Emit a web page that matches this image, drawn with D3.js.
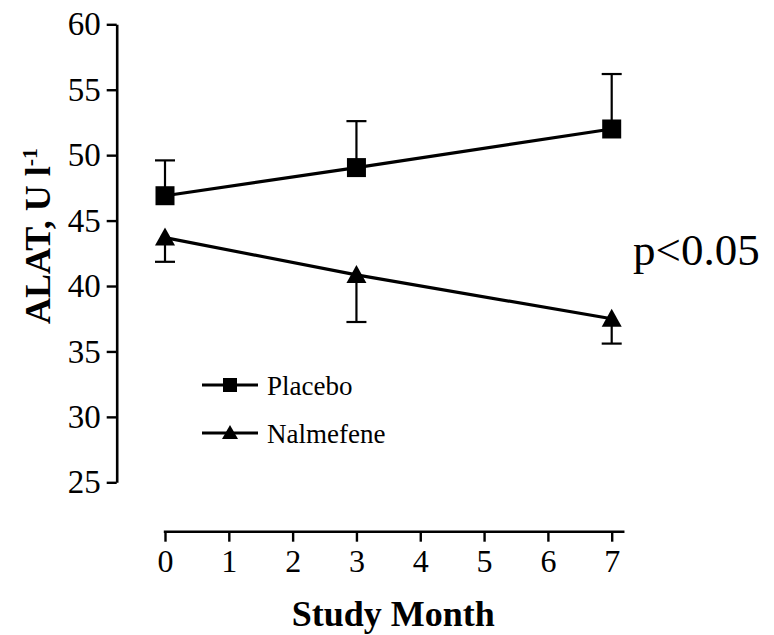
<!DOCTYPE html>
<html>
<head>
<meta charset="utf-8">
<script src="https://cdn.jsdelivr.net/npm/d3@7"></script>
<style>
  html, body { margin: 0; padding: 0; background: #fff; }
  svg { display: block; }
  text { font-family: "Liberation Serif", "Times New Roman", serif; fill: #000; }
</style>
</head>
<body>
<svg id="chart" width="774" height="635"></svg>
<script>
// Study months at which ALAT was measured
const months = [0, 3, 7];

// Placebo group: mean ALAT and upper error (U/l)
const placeboMean = [46.9, 49.05, 52.0];
const placeboErr  = [2.7, 3.55, 4.2];

// Nalmefene group: mean ALAT and lower error (U/l)
const nalmefeneMean = [43.7, 40.85, 37.5];
const nalmefeneErr  = [1.85, 3.6, 1.9];

const yTicks = [25, 30, 35, 40, 45, 50, 55, 60];
const xTicks = [0, 1, 2, 3, 4, 5, 6, 7];
const seriesNames = ["Placebo", "Nalmefene"];

const svg = d3.select("#chart");
svg.append("rect").attr("width", 774).attr("height", 635).attr("fill", "#fff");

const x = d3.scaleLinear().domain([0, 7]).range([165, 611.7]);
const y = d3.scaleLinear().domain([25, 60]).range([482.3, 24.3]);
const yAxisX = 116.7;
const xAxisY = 531.7;

// Y axis
const yAxis = svg.append("g")
  .attr("transform", `translate(${yAxisX},0)`)
  .call(d3.axisLeft(y).tickValues(yTicks).tickFormat(d3.format("d"))
    .tickSize(10).tickSizeOuter(0).tickPadding(6));
yAxis.select(".domain").attr("stroke", "#000").attr("stroke-width", 2.6);
yAxis.selectAll(".tick line").attr("stroke", "#000").attr("stroke-width", 2.4);
yAxis.selectAll(".tick text")
  .attr("font-family", "'Liberation Serif', 'Times New Roman', serif")
  .attr("font-size", 33).attr("fill", "#000");

// X axis (offset below the plot, line runs slightly past the last tick)
const xAxis = svg.append("g")
  .attr("transform", `translate(0,${xAxisY})`)
  .call(d3.axisBottom(x).tickValues(xTicks).tickFormat(d3.format("d"))
    .tickSize(10).tickSizeOuter(0).tickPadding(8));
xAxis.select(".domain").remove();
xAxis.append("line")
  .attr("x1", x(0) - 1.2).attr("x2", x(7.2))
  .attr("stroke", "#000").attr("stroke-width", 2.6);
xAxis.selectAll(".tick line").attr("stroke", "#000").attr("stroke-width", 2.4);
xAxis.selectAll(".tick text")
  .attr("font-family", "'Liberation Serif', 'Times New Roman', serif")
  .attr("font-size", 32).attr("fill", "#000");

// Axis titles
svg.append("text")
  .attr("x", (x(0) + x(7)) / 2 + 5).attr("y", 626)
  .attr("text-anchor", "middle")
  .attr("font-size", 36).attr("font-weight", "bold")
  .text("Study Month");

const yTitle = svg.append("text")
  .attr("transform", "translate(50,236) rotate(-90)")
  .attr("text-anchor", "middle")
  .attr("font-size", 36).attr("font-weight", "bold");
yTitle.append("tspan").text("ALAT, U l");
yTitle.append("tspan").attr("dy", -13).attr("font-size", 22).text("-1");

// Marker shapes
const squarePath = s => `M${-s/2},${-s/2}H${s/2}V${s/2}H${-s/2}Z`;
const trianglePath = (w, up, down) => `M0,${-up}L${w/2},${down}L${-w/2},${down}Z`;

const series = [
  { name: seriesNames[0], mean: placeboMean, err: placeboErr, dir: 1, shape: squarePath(19), legendShape: squarePath(14) },
  { name: seriesNames[1], mean: nalmefeneMean, err: nalmefeneErr, dir: -1, shape: trianglePath(20, 10, 8), legendShape: trianglePath(16, 8, 6) }
];

const line = d3.line().x((d, i) => x(months[i])).y(d => y(d));

series.forEach(s => {
  const g = svg.append("g");
  // one-sided error bars
  months.forEach((m, i) => {
    const yEnd = y(s.mean[i] + s.dir * s.err[i]);
    g.append("line")
      .attr("x1", x(m)).attr("x2", x(m))
      .attr("y1", y(s.mean[i])).attr("y2", yEnd)
      .attr("stroke", "#000").attr("stroke-width", 2.2);
    g.append("line")
      .attr("x1", x(m) - 10).attr("x2", x(m) + 10)
      .attr("y1", yEnd).attr("y2", yEnd)
      .attr("stroke", "#000").attr("stroke-width", 2.2);
  });
  g.append("path")
    .datum(s.mean)
    .attr("d", line)
    .attr("fill", "none").attr("stroke", "#000").attr("stroke-width", 3.2);
  g.selectAll("path.marker")
    .data(s.mean)
    .join("path")
    .attr("class", "marker")
    .attr("transform", (d, i) => `translate(${x(months[i])},${y(d)})`)
    .attr("d", s.shape)
    .attr("fill", "#000");
});

// Legend
const legend = svg.append("g").attr("transform", "translate(202,385)");
series.forEach((s, i) => {
  const row = legend.append("g").attr("transform", `translate(0,${i * 48})`);
  row.append("line").attr("x1", 0).attr("x2", 56).attr("stroke", "#000").attr("stroke-width", 3.2);
  row.append("path").attr("transform", "translate(28,0)").attr("d", s.legendShape).attr("fill", "#000");
  row.append("text").attr("x", 65).attr("y", 10).attr("font-size", 27).text(s.name);
});

// Significance annotation
svg.append("text")
  .attr("x", 633).attr("y", 265)
  .attr("font-size", 45)
  .text("p<0.05");
</script>
</body>
</html>
